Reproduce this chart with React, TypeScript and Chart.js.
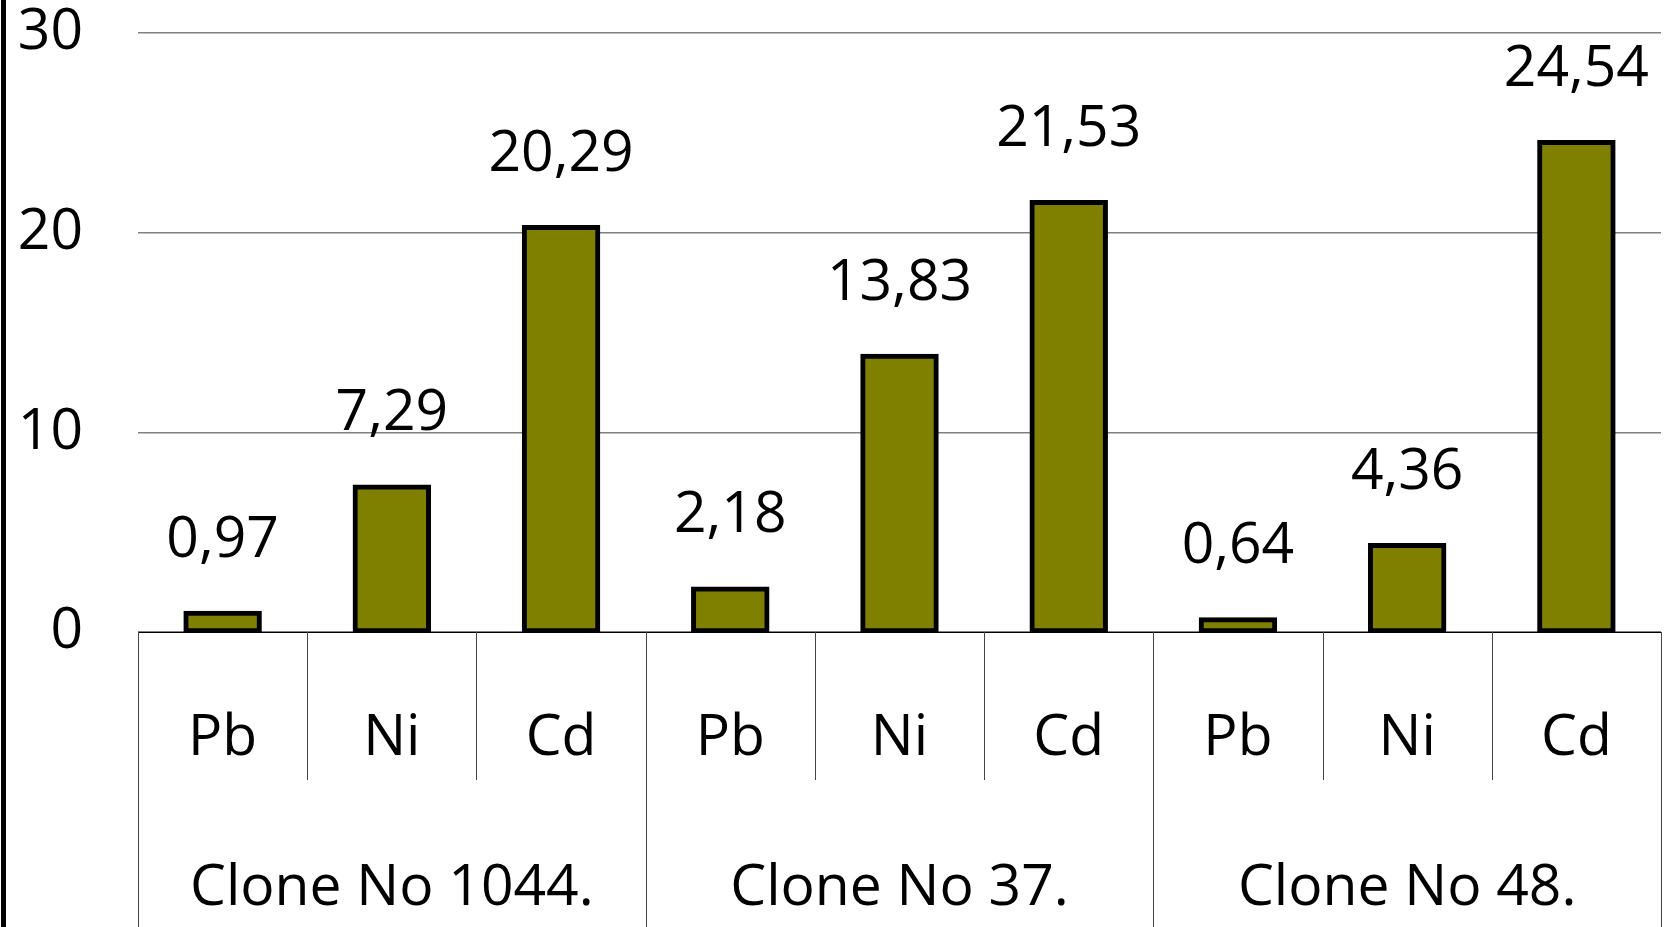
import React, { useEffect, useRef } from "react";
import { Chart, registerables } from "chart.js";

Chart.register(...registerables);

const elements = ["Pb", "Ni", "Cd", "Pb", "Ni", "Cd", "Pb", "Ni", "Cd"];
const groups = ["Clone No 1044.", "Clone No 37.", "Clone No 48."];
const values = [0.97, 7.29, 20.29, 2.18, 13.83, 21.53, 0.64, 4.36, 24.54];
const yTicks = [0, 10, 20, 30];

const FONT = "'Open Sans', 'DejaVu Sans', sans-serif";
const FONT_SIZE = 57;

const decorPlugin = {
  id: "decor",
  afterDraw(chart: any) {
    const ctx = chart.ctx;
    const x = chart.scales.x;
    const area = chart.chartArea;
    const n = elements.length;
    const step = (x.right - x.left) / n;
    ctx.save();
    // left black rule
    ctx.fillStyle = "#000";
    ctx.fillRect(1, 0, 5, chart.height);
    // category separators
    ctx.strokeStyle = "#444";
    ctx.lineWidth = 1;
    for (let i = 0; i <= n; i++) {
      const px = Math.round(x.left + i * step) + 0.5;
      const isGroup = i % 3 === 0;
      ctx.beginPath();
      ctx.moveTo(px, area.bottom);
      ctx.lineTo(px, isGroup ? chart.height : area.bottom + 148);
      ctx.stroke();
    }
    // group labels
    ctx.fillStyle = "#000";
    ctx.font = `${FONT_SIZE}px ${FONT}`;
    ctx.textAlign = "center";
    ctx.textBaseline = "middle";
    groups.forEach((g, gi) => {
      const cx = (x.getPixelForValue(gi * 3) + x.getPixelForValue(gi * 3 + 2)) / 2;
      ctx.fillText(g, cx, area.bottom + 257);
    });
    // value labels
    const meta = chart.getDatasetMeta(0);
    ctx.textBaseline = "alphabetic";
    meta.data.forEach((bar: any, i: number) => {
      const v = values[i];
      ctx.fillText(v.toFixed(2).replace(".", ","), bar.x, bar.y - 56);
    });
    ctx.restore();
  },
};

export default function App() {
  const ref = useRef<HTMLCanvasElement | null>(null);
  useEffect(() => {
    if (!ref.current) return;
    const chart = new Chart(ref.current, {
      type: "bar",
      data: {
        labels: elements,
        datasets: [
          {
            data: values,
            backgroundColor: "#808000",
            borderColor: "#000",
            borderWidth: 5,
            borderSkipped: false,
            inflateAmount: 2,
            barPercentage: 0.44,
            categoryPercentage: 1,
          } as any,
        ],
      },
      options: {
        responsive: false,
        animation: false,
        devicePixelRatio: 1,
        layout: { padding: { top: 0, right: 3, left: 0, bottom: 0 } },
        plugins: {
          legend: { display: false },
          tooltip: { enabled: false },
        },
        scales: {
          x: {
            offset: true,
            grid: { display: false, drawTicks: false },
            border: { display: true, color: "#000", width: 1 },
            ticks: {
              color: "#000",
              font: { family: FONT, size: FONT_SIZE },
              padding: 73,
              maxRotation: 0,
              autoSkip: false,
            },
            afterFit: (s: any) => {
              s.height = 295;
              s.paddingLeft = 0;
              s.paddingRight = 0;
            },
          },
          y: {
            min: 0,
            max: 30,
            afterBuildTicks: (s: any) => {
              s.ticks = yTicks.map((v) => ({ value: v }));
            },
            grid: {
              color: "#808080",
              lineWidth: 1.5,
              drawTicks: false,
            },
            border: { display: false },
            ticks: {
              color: "#000",
              font: { family: FONT, size: FONT_SIZE },
              padding: 55,
            },
            afterFit: (s: any) => {
              s.width = 138;
              s.paddingTop = 33;
              s.paddingBottom = 0;
            },
          },
        },
      },
      plugins: [decorPlugin],
    });
    return () => chart.destroy();
  }, []);
  return (
    <div style={{ position: "fixed", left: 0, top: 0, width: 1664, height: 927, background: "#fff" }}>
      <canvas ref={ref} width={1664} height={927} style={{ display: "block" }} />
    </div>
  );
}
